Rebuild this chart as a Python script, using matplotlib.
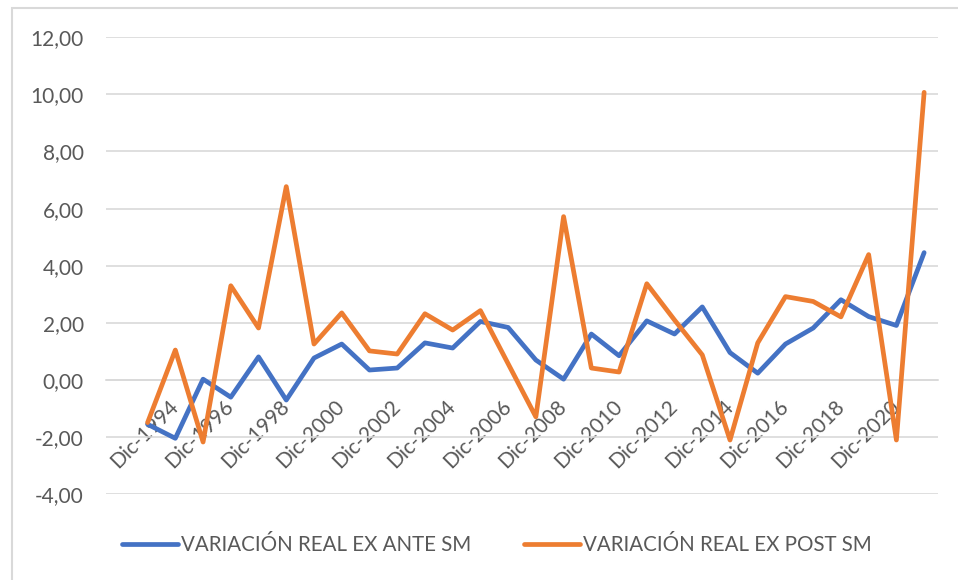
import matplotlib
matplotlib.use("Agg")
import matplotlib.pyplot as plt
from matplotlib.ticker import FuncFormatter, FixedLocator
from matplotlib.patches import Rectangle

years = list(range(1993, 2022))
categories = [f"Dic-{y}" for y in years]
ex_ante = [-1.55, -2.04, 0.03, -0.60, 0.81, -0.70, 0.77, 1.26, 0.35, 0.42,
           1.30, 1.12, 2.05, 1.84, 0.70, 0.03, 1.61, 0.85, 2.07, 1.61,
           2.56, 0.96, 0.24, 1.26, 1.82, 2.81, 2.22, 1.91, 4.46]
ex_post = [-1.49, 1.05, -2.17, 3.30, 1.82, 6.77, 1.26, 2.35, 1.02, 0.91,
           2.32, 1.75, 2.43, 0.57, -1.29, 5.72, 0.42, 0.28, 3.37, 2.10,
           0.88, -2.10, 1.30, 2.92, 2.75, 2.21, 4.39, -2.10, 10.07]
series_names = ["VARIACIÓN REAL EX ANTE SM", "VARIACIÓN REAL EX POST SM"]
y_ticks = [-4, -2, 0, 2, 4, 6, 8, 10, 12]

plt.rcParams['font.family'] = ['Lato', 'DejaVu Sans']
TXT = '#595959'
GRID = '#D9D9D9'

fig = plt.figure(figsize=(9.58, 5.8), dpi=100)
ax = fig.add_axes([106/958, 1-494.3/580, (938-106)/958, (494.3-37.2)/580])

for s in ['top', 'right', 'left']:
    ax.spines[s].set_visible(False)
ax.spines['bottom'].set_position(('data', 0))
ax.spines['bottom'].set_color(GRID)
ax.spines['bottom'].set_linewidth(1.2)

x = list(range(len(years)))
l1, = ax.plot(x, ex_ante, color='#4472C4', lw=3.4, solid_joinstyle='round',
              solid_capstyle='round', zorder=3)
l2, = ax.plot(x, ex_post, color='#ED7D31', lw=3.4, solid_joinstyle='round',
              solid_capstyle='round', zorder=4)

ax.set_xlim(-1.5, len(years) - 0.5)
ax.set_ylim(-4, 12)
ax.yaxis.set_major_locator(FixedLocator(y_ticks))
ax.yaxis.set_major_formatter(FuncFormatter(lambda v, p: f"{v:.2f}".replace('.', ',')))
ax.grid(axis='y', color=GRID, lw=1.2, zorder=0)
ax.set_axisbelow(True)

lab_idx = [i for i in x if i % 2 == 1]
ax.set_xticks(lab_idx)
ax.set_xticklabels([categories[i] for i in lab_idx])
ax.tick_params(axis='x', length=0, pad=17, labelcolor=TXT, labelsize=15)
for t in ax.get_xticklabels():
    t.set_rotation(45)
    t.set_ha('right')
    t.set_va('center')
    t.set_rotation_mode('anchor')
ax.tick_params(axis='y', length=0, pad=16, labelcolor=TXT, labelsize=15)

fig.legend([l1, l2], series_names, loc='center', bbox_to_anchor=(497/958, 1-545/580),
           ncol=2, frameon=False, fontsize=14.8, labelcolor=TXT, handlelength=2.7,
           handletextpad=0.15, columnspacing=2.6)

fig.patches.append(Rectangle((12/958, -0.2), 1.5, 1 - 8/580 + 0.2, transform=fig.transFigure,
                             fill=False, edgecolor=GRID, lw=1.5))

fig.savefig('out.png', dpi=100)
